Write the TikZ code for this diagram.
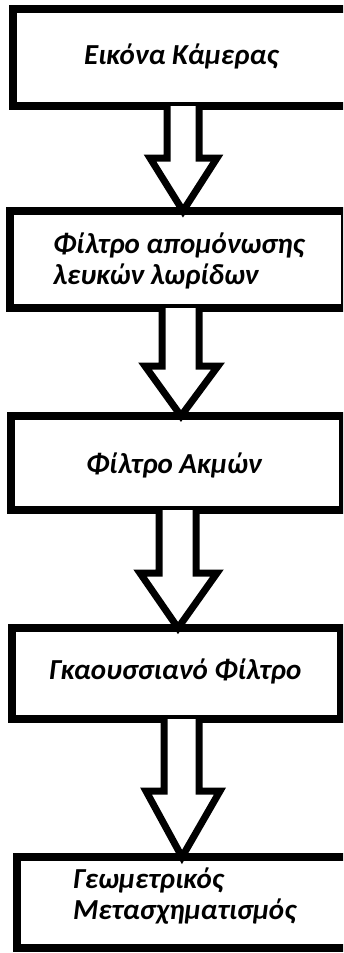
\documentclass[tikz,border=0pt]{standalone}
\usepackage{fontspec}
\setmainfont{Carlito}
\usetikzlibrary{calc}
\tikzset{
  boxstyle/.style={draw=black, line width=7.5pt, rectangle, inner sep=0pt, outer sep=0pt, anchor=north west},
  labelstyle/.style={font=\fontsize{29}{31}\selectfont\bfseries\itshape, inner sep=0pt, outer sep=0pt, align=left, anchor=base west, text=black},
  blockarrow/.style={draw=black, line width=7pt, line join=miter, fill=white}
}
\begin{document}
\begin{tikzpicture}[x=1pt,y=-1pt]
\useasboundingbox (0,0) rectangle (343,953);
\clip (0,0) rectangle (343,953);
\fill[white] (0,0) rectangle (343,953);
% boxes
\node[boxstyle, minimum width=339pt, minimum height=97pt] (b1) at (13,9) {};
\node[boxstyle, minimum width=335pt, minimum height=97pt] (b2) at (10,211) {};
\node[boxstyle, minimum width=332pt, minimum height=94pt] (b3) at (11,416) {};
\node[boxstyle, minimum width=329pt, minimum height=91pt] (b4) at (12,628) {};
\node[boxstyle, minimum width=333pt, minimum height=91pt] (b5) at (17,857) {};
% labels (anchor = baseline of the last line)
\node[labelstyle] (t1) at (84,64) {Εικόνα Κάμερας};
\node[labelstyle] (t2) at (53,284) {Φίλτρο απομόνωσης\\λευκών λωρίδων};
\node[labelstyle] (t3) at (86,473) {Φίλτρο Ακμών};
\node[labelstyle] (t4) at (49,679) {Γκαουσσιανό Φίλτρο};
\node[labelstyle] (t5) at (73,919) {Γεωμετρικός\\Μετασχηματισμός};
% block arrows
\draw[blockarrow] let \p1=(b1.south), \p2=(b2.north) in
  (167pt,\y1) -- (167pt,-158pt) -- (150pt,-158pt) -- (183pt,\y2) -- (217pt,-158pt) -- (199pt,-158pt) -- (199pt,\y1);
\draw[blockarrow] let \p1=(b2.south), \p2=(b3.north) in
  (162pt,\y1) -- (162pt,-366pt) -- (145pt,-366pt) -- (181pt,\y2) -- (218pt,-366pt) -- (199pt,-366pt) -- (199pt,\y1);
\draw[blockarrow] let \p1=(b3.south), \p2=(b4.north) in
  (159pt,\y1) -- (159pt,-573pt) -- (140pt,-573pt) -- (178pt,\y2) -- (217pt,-573pt) -- (196pt,-573pt) -- (196pt,\y1);
\draw[blockarrow] let \p1=(b4.south), \p2=(b5.north) in
  (164pt,\y1) -- (164pt,-791pt) -- (146pt,-791pt) -- (182pt,\y2) -- (220pt,-791pt) -- (199pt,-791pt) -- (199pt,\y1);
\end{tikzpicture}
\end{document}
